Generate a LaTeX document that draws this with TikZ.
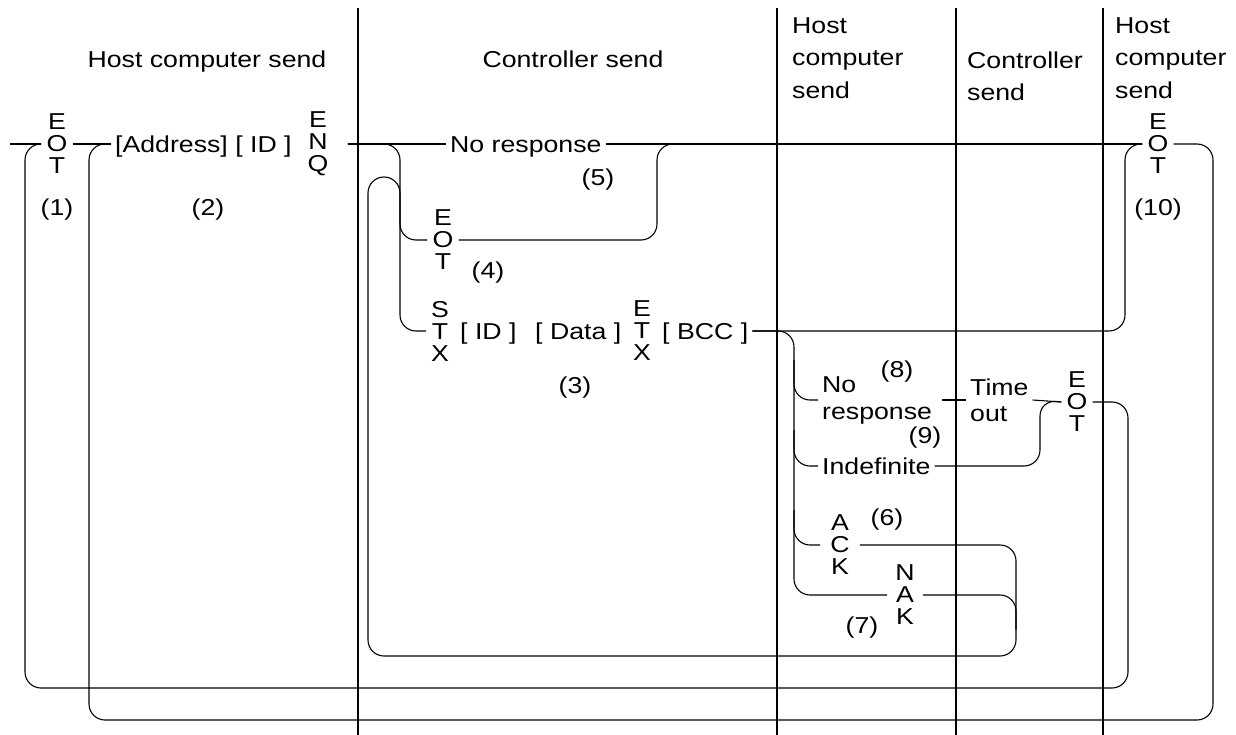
\documentclass[tikz,border=0pt]{standalone}
\usepackage{fontspec}
\setmainfont[FakeStretch=1.16]{Liberation Sans}
\begin{document}
\begin{tikzpicture}[x=1pt,y=-1pt,
  every node/.style={font=\fontsize{23}{22}\selectfont, inner sep=0pt},
  txt/.style={inner xsep=4pt, text height=16.6pt, text depth=0pt},
  stk/.style={align=center, inner xsep=5pt, font=\fontsize{23}{22}\selectfont},
  two/.style={align=left, inner xsep=4pt, font=\fontsize{23}{27}\selectfont},
  hdr/.style={align=left, font=\fontsize{23}{32.5}\selectfont},
  num/.style={},
  conn/.style={draw, line width=1.1pt, rounded corners=16pt},
  col/.style={line width=1.1pt}]
\useasboundingbox (0,0) rectangle (1236,735);

% column separators
\foreach \cx in {358,777,956,1103} \draw[col] (\cx,8) -- (\cx,735);

% headers
\node[anchor=base] (h1) at (207,68) {Host computer send};
\node[anchor=base] (h2) at (573,68) {Controller send};
\node[hdr, anchor=north west] (h3) at (792,17) {Host\\computer\\send};
\node[hdr, anchor=north west, font=\fontsize{23}{32}\selectfont] (h4) at (967,52) {Controller\\send};
\node[hdr, anchor=north west] (h5) at (1115,17) {Host\\computer\\send};

% row 1
\coordinate (in0) at (10,144);
\node[stk] (eot1) at (57,144) {E\\O\\T};
\node[txt, anchor=west] (addr) at (111,144) {[Address] [ ID ]};
\node[stk, inner xsep=19pt] (enq) at (318,144) {E\\N\\Q};
\node[txt, anchor=west] (noresp) at (446,144) {No response};
\node[stk] (eot10) at (1158,144) {E\\O\\T};

% controller answers
\node[stk] (eot4) at (443,240) {E\\O\\T};
\node[stk] (stx) at (440,331) {S\\T\\X};
\node[txt, anchor=west] (id2) at (456,331) {[ ID ]};
\node[txt, anchor=west] (data) at (531,331) {[ Data ]};
\node[stk] (etx) at (642,331) {E\\T\\X};
\node[txt, anchor=west] (bcc) at (658,331) {[ BCC ]};

% host answers
\node[two, anchor=west, inner xsep=4pt] (nr2) at (818,400) {No\\response};
\node[two, anchor=west, font=\fontsize{23}{26}\selectfont] (tout) at (966,400) {Time\\out};
\node[stk] (eot89) at (1077,402) {E\\O\\T};
\node[txt, anchor=west] (indef) at (818,466) {Indefinite};
\node[stk, inner xsep=10pt] (ack) at (840,545) {A\\C\\K};
\node[stk, inner xsep=8pt] (nak) at (905,595) {N\\A\\K};

% numbers
\node[num] (n1) at (57,210) {(1)};
\node[num] (n2) at (208,210) {(2)};
\node[num] (n3) at (575,388) {(3)};
\node[num] (n4) at (488,273) {(4)};
\node[num] (n5) at (598,180) {(5)};
\node[num] (n6) at (887,520) {(6)};
\node[num] (n7) at (862,628) {(7)};
\node[num] (n8) at (897,372) {(8)};
\node[num] (n9) at (925,438) {(9)};
\node[num] (n10) at (1158,210) {(10)};

% junction coordinates
\coordinate (b1) at (400,331);
\coordinate (b1top) at (400,200);
\coordinate (j5) at (657,144);
\coordinate (b2) at (794,595);
\coordinate (b2a) at (794,360);
\coordinate (b2b) at (794,430);
\coordinate (b2c) at (794,510);
\coordinate (j9) at (1040,400);
\coordinate (aR) at (1128,688);
\coordinate (aL) at (25,144);
\coordinate (bR) at (1213,720);
\coordinate (bL) at (89,144);
\coordinate (j10) at (1125,144);

% trunk
\draw[conn] (in0) -- (eot1.west);
\draw[conn] (eot1.east) -- (addr.west);
\draw[conn] (enq.east) -- (noresp.west);
\draw[conn] (noresp.east) -- (eot10.west);

% controller branches
\draw[conn] (enq.east) -| (b1) -- (stx.west);
\draw[conn] (b1top) |- (eot4.west);
\draw[conn] (eot4.east) -| (j5) -- (eot10.west);
\draw[conn] (bcc.east) -| (j10) -- (eot10.west);

% host branches
\draw[conn] (bcc.east) -| (b2) -- (nak.west);
\draw[conn] (b2a) |- (nr2.west);
\draw[conn] (b2b) |- (indef.west);
\draw[conn] (b2c) |- (ack.west);
\draw[conn] ([xshift=6pt]nr2.east) -- (tout.west);
\draw[conn] (tout.east) -- (eot89.west);
\draw[conn] (indef.east) -| (j9) -- (eot89.west);

% loop C (ACK / NAK back to controller)
\draw[conn] (ack.east) -- (1016,545) -- (1016,656) -- (368,656) -- (368,177) -- (400,177) -- (b1top);
\draw[conn] (nak.east) -| (1016,630);

% loop A and loop B
\draw[conn] (eot89.east) -| (aR) -| (aL) -- (eot1.west);
\draw[conn] (eot10.east) -| (bR) -| (bL) -- (addr.west);
\end{tikzpicture}
\end{document}
